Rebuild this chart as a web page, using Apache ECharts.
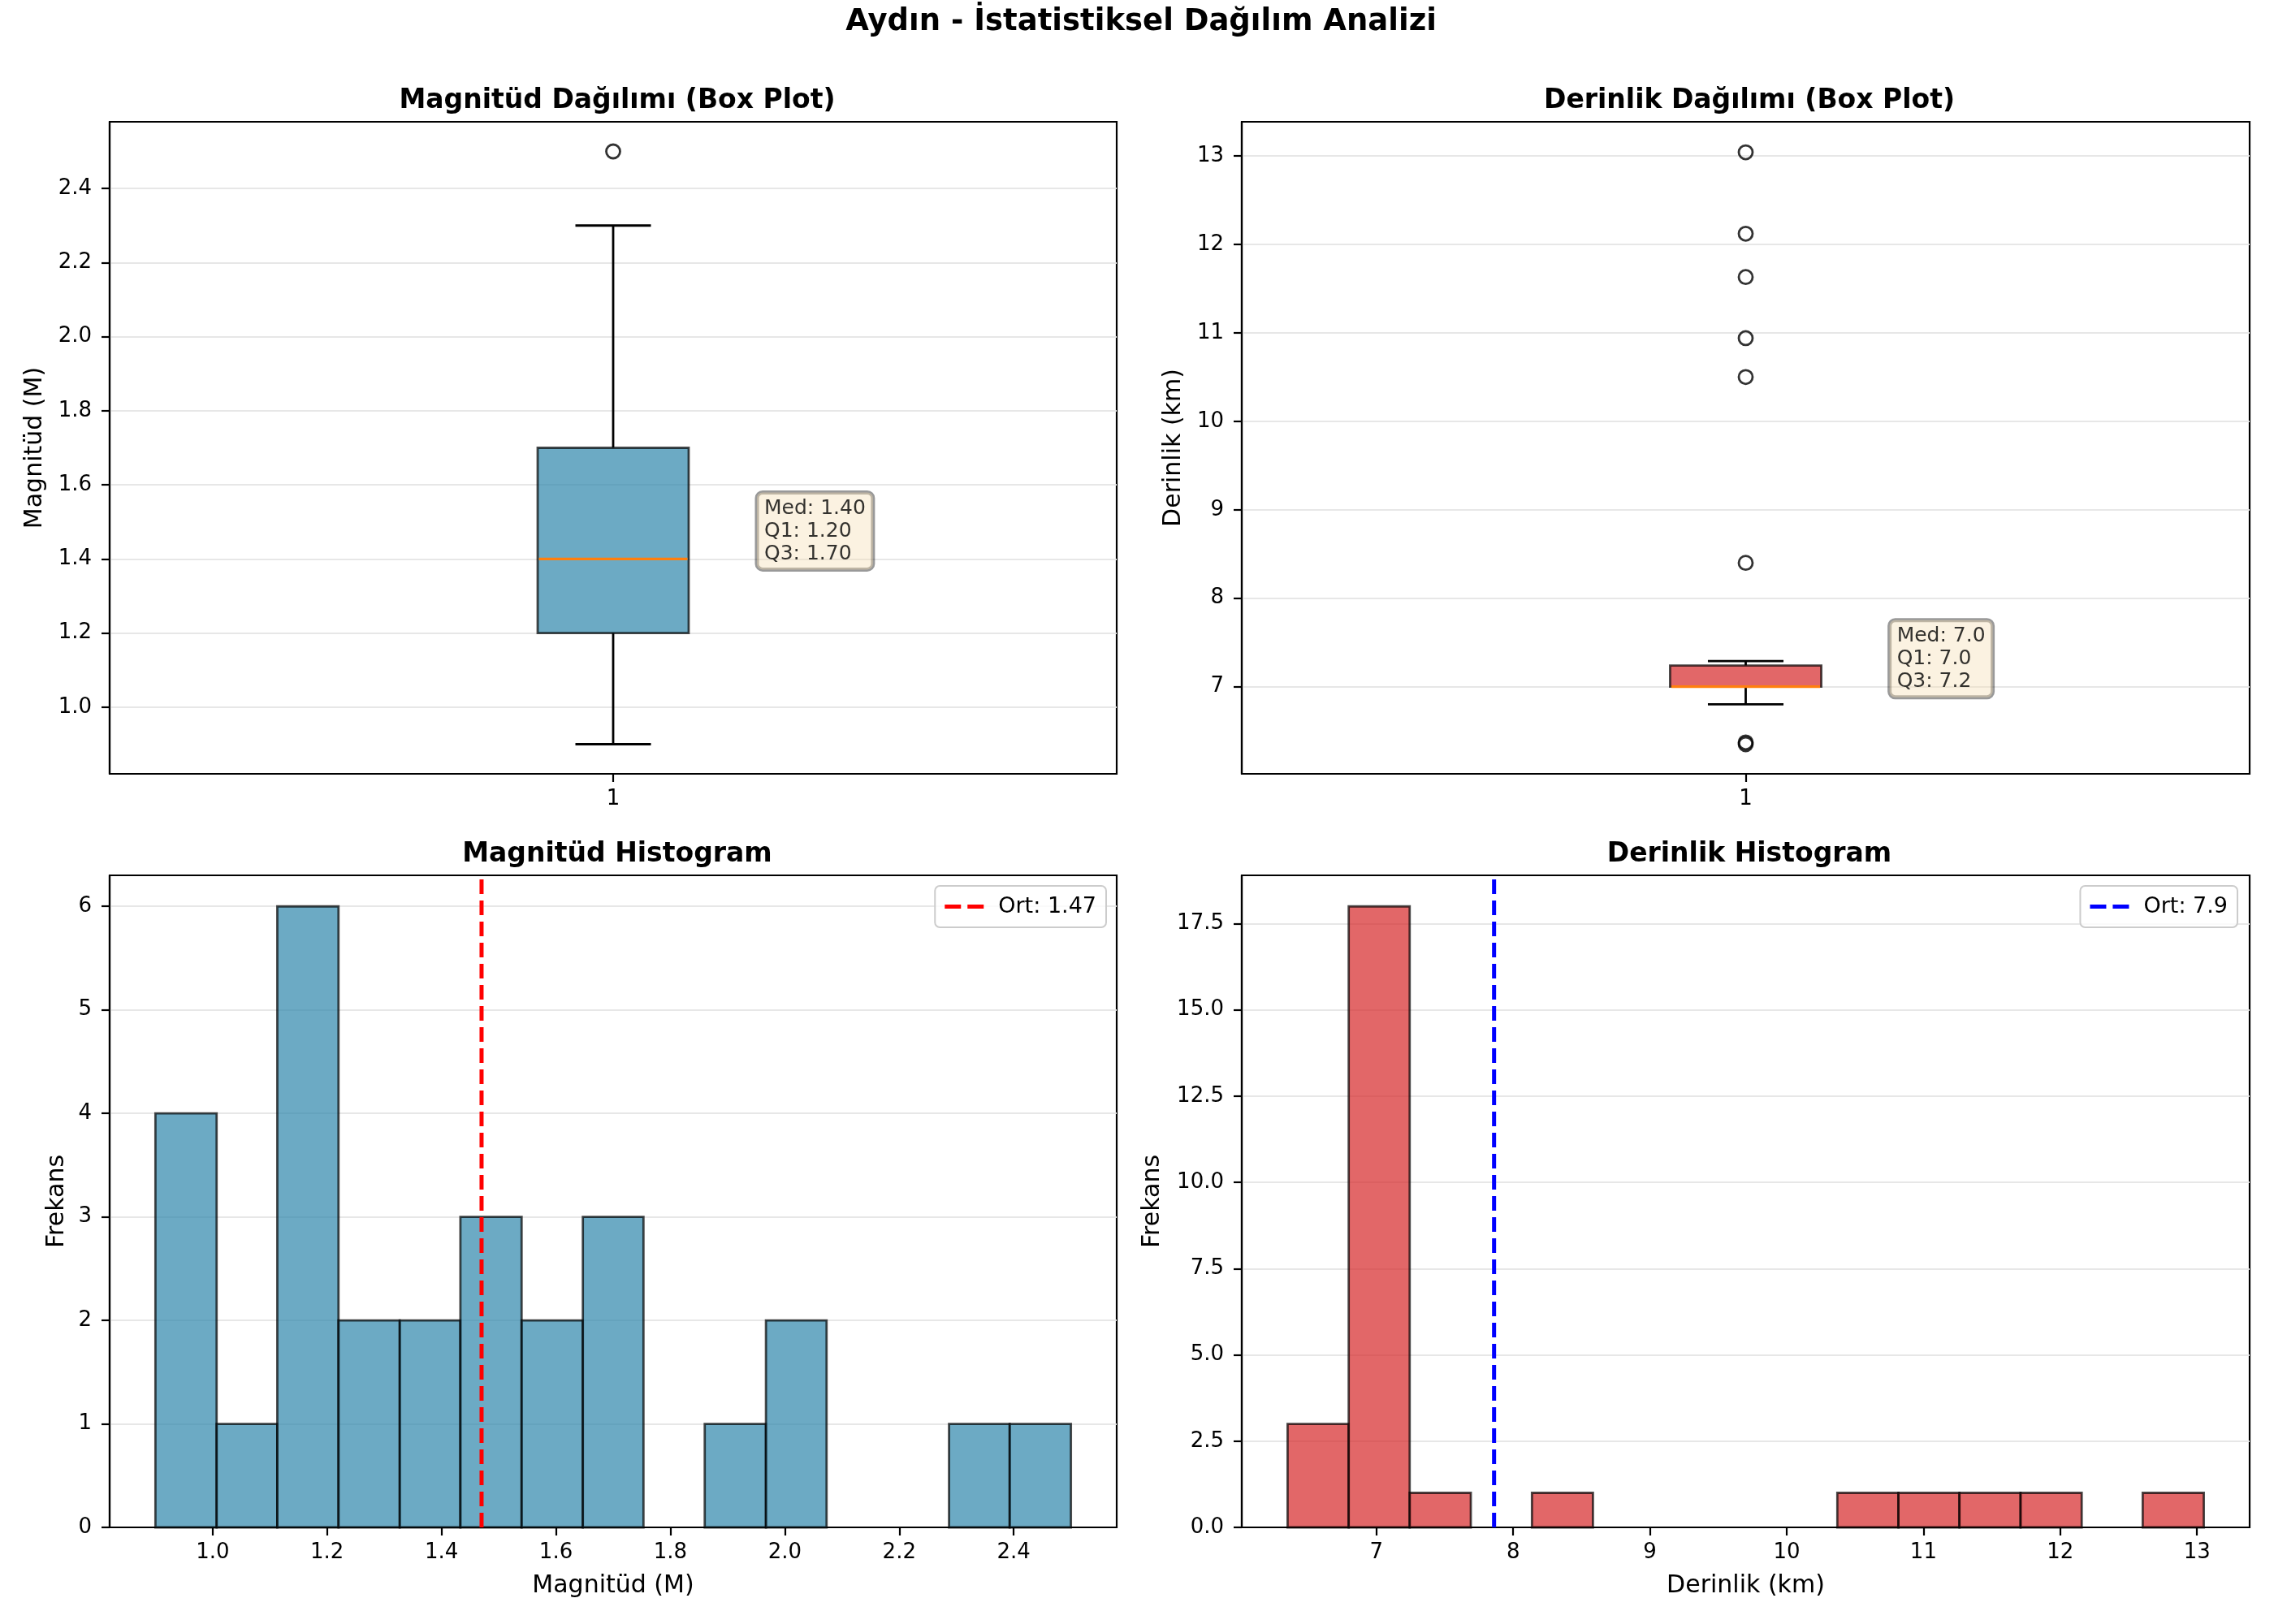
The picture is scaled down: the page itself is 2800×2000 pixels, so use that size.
<!DOCTYPE html>
<html>
<head>
<meta charset="utf-8">
<title>Aydın - İstatistiksel Dağılım Analizi</title>
<script src="https://cdn.jsdelivr.net/npm/echarts@6/dist/echarts.min.js"></script>
<style>
  html, body { margin: 0; padding: 0; background: #fff; }
  #chart { width: 2800px; height: 2000px; }
</style>
</head>
<body>
<div id="chart"></div>
<script>
// 箱线图统计值: [下须, Q1, 中位数, Q3, 上须]
const magBox = [0.9, 1.2, 1.4, 1.7, 2.3];
const magOutliers = [2.5];
const depthBox = [6.8, 7.0, 7.0, 7.24, 7.29];
const depthOutliers = [6.35, 6.37, 8.4, 10.5, 10.94, 11.63, 12.12, 13.04];

// 直方图分箱
const magEdges = [0.9, 1.007, 1.113, 1.22, 1.327, 1.433, 1.54, 1.647, 1.753, 1.86, 1.967, 2.073, 2.18, 2.287, 2.393, 2.5];
const magCounts = [4, 1, 6, 2, 2, 3, 2, 3, 0, 1, 2, 0, 0, 1, 1];
const depthEdges = [6.35, 6.797, 7.243, 7.69, 8.137, 8.583, 9.03, 9.477, 9.923, 10.37, 10.817, 11.263, 11.71, 12.157, 12.603, 13.05];
const depthCounts = [3, 18, 1, 0, 1, 0, 0, 0, 0, 1, 1, 1, 1, 0, 1];

const magMean = 1.47;
const depthMean = 7.86;

// 坐标轴刻度
const magTicks = [1.0, 1.2, 1.4, 1.6, 1.8, 2.0, 2.2, 2.4];
const depthTicks = [7, 8, 9, 10, 11, 12, 13];
const magFreqTicks = [0, 1, 2, 3, 4, 5, 6];
const depthFreqTicks = [0, 2.5, 5, 7.5, 10, 12.5, 15, 17.5];
const boxTicks = [1];

// 坐标轴范围
const magRange = [0.82, 2.58];
const depthRange = [6.015, 13.385];
const magFreqMax = 6.3;
const depthFreqMax = 18.9;

const FONT = 'DejaVu Sans';
const BLUE = 'rgba(46,134,171,0.7)';
const RED = 'rgba(214,39,40,0.7)';
const EDGE = 'rgba(0,0,0,0.7)';

const grids = [
  { left: 135, top: 150, width: 1240, height: 803 },
  { left: 1529, top: 150, width: 1241, height: 803 },
  { left: 135, top: 1078, width: 1240, height: 803 },
  { left: 1529, top: 1078, width: 1241, height: 803 }
].map(g => Object.assign(g, { show: true, borderColor: '#000', borderWidth: 2.2, backgroundColor: '#fff', containLabel: false }));

function axis(min, max, ticks, fmt, opts) {
  return Object.assign({
    type: 'value', min, max,
    axisLine: { show: true, onZero: false, lineStyle: { color: '#000', width: 2.2 } },
    axisTick: { show: true, length: 10, customValues: ticks, lineStyle: { color: '#000', width: 2.2 } },
    axisLabel: { customValues: ticks, formatter: fmt, color: '#000', fontFamily: FONT, fontSize: 26 },
    splitLine: { show: false },
    nameLocation: 'middle',
    nameTextStyle: { color: '#000', fontFamily: FONT, fontSize: 30 }
  }, opts || {});
}

const gridLine = { show: true, lineStyle: { color: '#e7e7e7', width: 2.2 } };
const f1 = v => v.toFixed(1);
const f0 = v => String(Math.round(v));

const xLabel = (ticks, fmt) => ({ customValues: ticks, formatter: fmt, color: '#000', fontFamily: FONT, fontSize: 26, margin: 18 });
const xAxes = [
  axis(0.5, 1.5, boxTicks, f0, { gridIndex: 0, axisLabel: xLabel(boxTicks, f0) }),
  axis(0.5, 1.5, boxTicks, f0, { gridIndex: 1, axisLabel: xLabel(boxTicks, f0) }),
  axis(magRange[0], magRange[1], magTicks, f1, { gridIndex: 2, name: 'Magnitüd (M)', nameGap: 57, axisLabel: xLabel(magTicks, f1) }),
  axis(depthRange[0], depthRange[1], depthTicks, f0, { gridIndex: 3, name: 'Derinlik (km)', nameGap: 57, axisLabel: xLabel(depthTicks, f0) })
];

const yLabel = (ticks, fmt) => ({ customValues: ticks, formatter: fmt, color: '#000', fontFamily: FONT, fontSize: 26, margin: 22 });
const yAxes = [
  axis(magRange[0], magRange[1], magTicks, f1, { gridIndex: 0, name: 'Magnitüd (M)', nameGap: 77, splitLine: gridLine, axisLabel: yLabel(magTicks, f1) }),
  axis(depthRange[0], depthRange[1], depthTicks, f0, { gridIndex: 1, name: 'Derinlik (km)', nameGap: 69, splitLine: gridLine, axisLabel: yLabel(depthTicks, f0) }),
  axis(0, magFreqMax, magFreqTicks, f0, { gridIndex: 2, name: 'Frekans', nameGap: 50, splitLine: gridLine, axisLabel: yLabel(magFreqTicks, f0) }),
  axis(0, depthFreqMax, depthFreqTicks, f1, { gridIndex: 3, name: 'Frekans', nameGap: 95, splitLine: gridLine, axisLabel: yLabel(depthFreqTicks, f1) })
];

// 箱线图（自定义绘制，须线帽为箱宽一半）
function boxSeries(stats, color, idx) {
  const boxW = 0.15;
  return {
    type: 'custom', xAxisIndex: idx, yAxisIndex: idx, z: 3,
    data: [[1].concat(stats)],
    encode: { x: 0, y: [1, 2, 3, 4, 5] },
    renderItem(params, api) {
      const x = api.value(0);
      const lo = api.value(1), q1 = api.value(2), med = api.value(3), q3 = api.value(4), hi = api.value(5);
      const a = api.coord([x - boxW / 2, q3]);
      const b = api.coord([x + boxW / 2, q1]);
      const c = api.coord([x, 0]);
      const capL = api.coord([x - boxW / 4, lo]);
      const capR = api.coord([x + boxW / 4, hi]);
      const yLo = api.coord([x, lo])[1], yHi = api.coord([x, hi])[1], yMed = api.coord([x, med])[1];
      const ls = { stroke: '#000', lineWidth: 2.8 };
      return {
        type: 'group',
        children: [
          { type: 'line', shape: { x1: c[0], y1: b[1], x2: c[0], y2: yLo }, style: ls },
          { type: 'line', shape: { x1: c[0], y1: a[1], x2: c[0], y2: yHi }, style: ls },
          { type: 'line', shape: { x1: capL[0], y1: yLo, x2: capR[0], y2: yLo }, style: ls },
          { type: 'line', shape: { x1: capL[0], y1: yHi, x2: capR[0], y2: yHi }, style: ls },
          { type: 'rect', shape: { x: a[0], y: a[1], width: b[0] - a[0], height: b[1] - a[1] }, style: { fill: color, stroke: EDGE, lineWidth: 2.8 } },
          { type: 'line', shape: { x1: a[0] + 1.5, y1: yMed, x2: b[0] - 1.5, y2: yMed }, style: { stroke: '#ff7f0e', lineWidth: 3.2 } }
        ]
      };
    }
  };
}

function outlierSeries(vals, idx) {
  return {
    type: 'scatter', xAxisIndex: idx, yAxisIndex: idx, z: 4,
    data: vals.map(v => [1, v]),
    symbol: 'circle', symbolSize: 17,
    itemStyle: { color: 'rgba(0,0,0,0)', borderColor: '#000', borderWidth: 2.8 },
    silent: true
  };
}

function annotSeries(stats, digits, idx) {
  const txt = 'Med: ' + stats[2].toFixed(digits) + '\nQ1: ' + stats[1].toFixed(digits) + '\nQ3: ' + stats[3].toFixed(digits);
  return {
    type: 'scatter', xAxisIndex: idx, yAxisIndex: idx, z: 5,
    data: [[1.15, stats[2]]],
    symbolSize: 0, silent: true,
    label: {
      show: true, position: [-9, 13], align: 'left', verticalAlign: 'bottom',
      formatter: () => txt,
      fontFamily: FONT, fontSize: 25, lineHeight: 28, color: '#000',
      backgroundColor: 'rgba(245,222,179,0.5)',
      borderColor: 'rgba(0,0,0,0.5)', borderWidth: 2.5, borderRadius: 7,
      padding: [6, 9, 5, 9]
    }
  };
}

function histSeries(edges, counts, color, idx) {
  const data = [];
  counts.forEach((c, i) => { if (c > 0) data.push([edges[i], edges[i + 1], c]); });
  return {
    type: 'custom', xAxisIndex: idx, yAxisIndex: idx, z: 2,
    data,
    encode: { x: [0, 1], y: 2 },
    renderItem(params, api) {
      const p0 = api.coord([api.value(0), 0]);
      const p1 = api.coord([api.value(1), api.value(2)]);
      return {
        type: 'rect',
        shape: { x: p0[0], y: p1[1], width: p1[0] - p0[0], height: p0[1] - p1[1] },
        style: { fill: color, stroke: EDGE, lineWidth: 2.8 }
      };
    }
  };
}

function meanSeries(name, mean, top, color, idx) {
  return {
    type: 'line', name, xAxisIndex: idx, yAxisIndex: idx, z: 6,
    data: [[mean, 0], [mean, top]],
    symbol: 'none', silent: true,
    lineStyle: { color, width: 5, type: [18, 8] },
    itemStyle: { color }
  };
}

// 图例中的虚线样式
const dashIcon = 'path://M0,0h20v5h-20z M28,0h20v5h-20z';

const legendBase = {
  orient: 'vertical', top: 1091,
  backgroundColor: 'rgba(255,255,255,0.8)',
  borderColor: '#cccccc', borderWidth: 2, borderRadius: 6,
  padding: [12, 12, 12, 12],
  itemWidth: 50, itemHeight: 5, itemGap: 8,
  textStyle: { fontFamily: FONT, fontSize: 27, color: '#000', padding: [0, 0, 0, 12] },
  selectedMode: false
};

const magLegend = 'Ort: ' + magMean.toFixed(2);
const depthLegend = 'Ort: ' + depthMean.toFixed(1);

const titleStyle = { fontFamily: FONT, fontSize: 33, fontWeight: 'bold', color: '#000' };

const option = {
  animation: false,
  backgroundColor: '#fff',
  title: [
    { text: 'Aydın - İstatistiksel Dağılım Analizi', left: 1400, top: 4, textAlign: 'center', textStyle: { fontFamily: FONT, fontSize: 37, fontWeight: 'bold', color: '#000' } },
    { text: 'Magnitüd Dağılımı (Box Plot)', left: 755, top: 103, textAlign: 'center', textStyle: titleStyle },
    { text: 'Derinlik Dağılımı (Box Plot)', left: 2149, top: 103, textAlign: 'center', textStyle: titleStyle },
    { text: 'Magnitüd Histogram', left: 755, top: 1031, textAlign: 'center', textStyle: titleStyle },
    { text: 'Derinlik Histogram', left: 2149, top: 1031, textAlign: 'center', textStyle: titleStyle }
  ],
  legend: [
    Object.assign({}, legendBase, { data: [{ name: magLegend, icon: dashIcon }], right: 1438 }),
    Object.assign({}, legendBase, { data: [{ name: depthLegend, icon: dashIcon }], right: 45 })
  ],
  grid: grids,
  xAxis: xAxes,
  yAxis: yAxes,
  series: [
    boxSeries(magBox, BLUE, 0),
    outlierSeries(magOutliers, 0),
    annotSeries(magBox, 2, 0),
    boxSeries(depthBox, RED, 1),
    outlierSeries(depthOutliers, 1),
    annotSeries(depthBox, 1, 1),
    histSeries(magEdges, magCounts, BLUE, 2),
    meanSeries(magLegend, magMean, magFreqMax, '#ff0000', 2),
    histSeries(depthEdges, depthCounts, RED, 3),
    meanSeries(depthLegend, depthMean, depthFreqMax, '#0000ff', 3)
  ]
};

const chart = echarts.init(document.getElementById('chart'));
chart.setOption(option);
window.addEventListener('resize', () => chart.resize());
</script>
</body>
</html>
